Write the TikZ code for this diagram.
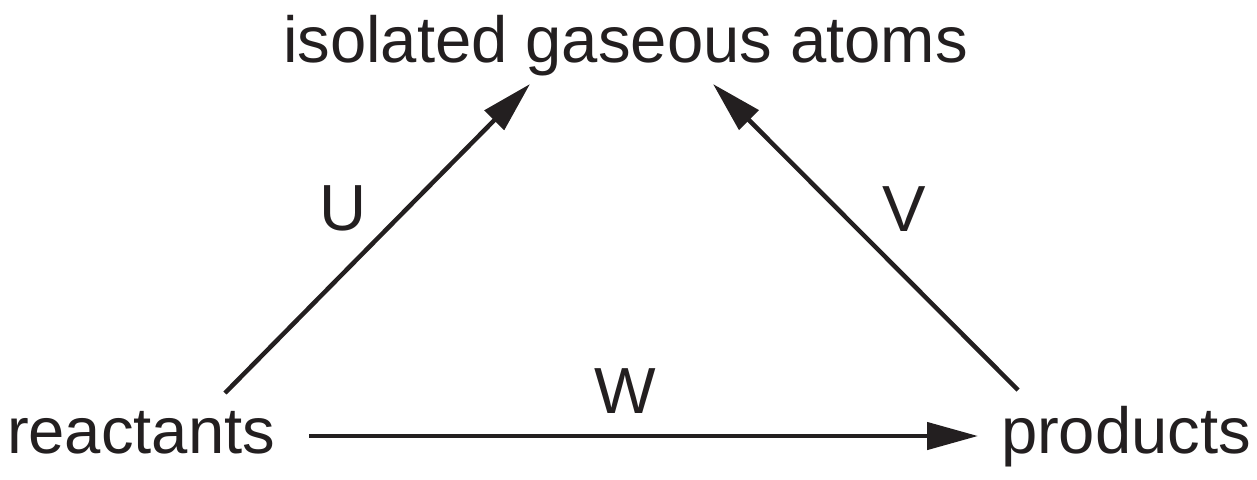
\documentclass[tikz,border=0pt]{standalone}
\usepackage{fontspec}
\setmainfont{Liberation Sans}
\usetikzlibrary{arrows.meta}
\definecolor{ink}{RGB}{35,31,32}
\begin{document}
\begin{tikzpicture}[x=0.5pt,y=-0.5pt,
  lbl/.style={inner sep=0pt,outer sep=0pt,text=ink,font=\fontsize{32.6}{38}\selectfont},
  arr/.style={draw=ink,line width=2.25pt,-{Triangle[length=25.5pt,width=13.5pt]}}]
\useasboundingbox (0,0) rectangle (1257,479);
\node[lbl,anchor=base west] (atoms) at (283,62) {isolated gaseous atoms};
\node[lbl,anchor=base west] (reactants) at (7,453) {reactants};
\node[lbl,anchor=base west] (products) at (1001,453) {products};
\node[lbl,anchor=base] (U) at (343,230) {U};
\node[lbl,anchor=base] (V) at (904,231) {V};
\node[lbl,anchor=base] (W) at (625,413) {W};
\draw[arr] ([shift={(302,-17)}]reactants.base west) -- ([shift={(-23,-17)}]products.base west);
\draw[arr] ([shift={(218,-60)}]reactants.base west) -- ([shift={(247,22)}]atoms.base west);
\draw[arr] ([shift={(17,-63)}]products.base west) -- ([shift={(430,22)}]atoms.base west);
\end{tikzpicture}
\end{document}
